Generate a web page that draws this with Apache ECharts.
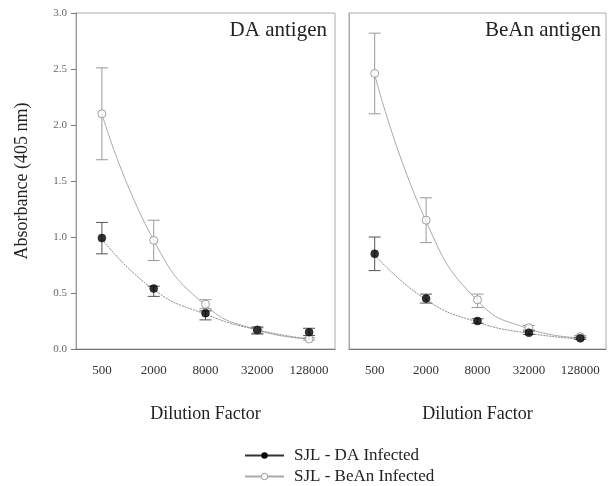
<!DOCTYPE html>
<html>
<head>
<meta charset="utf-8">
<script src="https://cdn.jsdelivr.net/npm/echarts@6/dist/echarts.min.js"></script>
<style>
  html, body { margin: 0; padding: 0; background: #fff; }
  #chart { width: 608px; height: 486px; }
</style>
</head>
<body>
<div id="chart"></div>
<script>
// dilution categories (x axis)
const dilutions = ['500', '2000', '8000', '32000', '128000']

// DA antigen panel
const daAg_daMean = [0.99, 0.54, 0.32, 0.17, 0.15]
const daAg_daLow = [0.85, 0.47, 0.26, 0.14, 0.12]
const daAg_daHigh = [1.13, 0.56, 0.34, 0.19, 0.185]
const daAg_daFit = [0.98, 0.53, 0.31, 0.17, 0.09]
const daAg_beanMean = [2.10, 0.97, 0.40, 0.17, 0.09]
const daAg_beanLow = [1.69, 0.79, 0.36, 0.13, 0.08]
const daAg_beanHigh = [2.51, 1.15, 0.44, 0.20, 0.10]
const daAg_beanFit = [2.10, 0.97, 0.39, 0.17, 0.09]

// BeAn antigen panel
const beanAg_daMean = [0.85, 0.45, 0.25, 0.145, 0.095]
const beanAg_daLow = [0.70, 0.41, 0.23, 0.13, 0.085]
const beanAg_daHigh = [1.00, 0.49, 0.27, 0.16, 0.105]
const beanAg_daFit = [0.84, 0.44, 0.24, 0.14, 0.09]
const beanAg_beanMean = [2.46, 1.15, 0.44, 0.19, 0.11]
const beanAg_beanLow = [2.10, 0.95, 0.37, 0.17, 0.10]
const beanAg_beanHigh = [2.82, 1.35, 0.49, 0.21, 0.12]
const beanAg_beanFit = [2.45, 1.14, 0.43, 0.18, 0.10]

const FONT = '"Liberation Serif", "DejaVu Serif", serif'
const DA_NAME = 'SJL - DA Infected'
const BEAN_NAME = 'SJL - BeAn Infected'

// error bar with caps, drawn through the axis scales
function errorBars(idx, low, high, color) {
  return {
    type: 'custom',
    xAxisIndex: idx,
    yAxisIndex: idx,
    silent: true,
    z: 3,
    data: dilutions.map((d, i) => [i, low[i], high[i]]),
    renderItem: (params, api) => {
      const top = api.coord([api.value(0), api.value(2)])
      const bot = api.coord([api.value(0), api.value(1)])
      const hw = 6
      const style = { stroke: color, lineWidth: 1 }
      return {
        type: 'group',
        children: [
          { type: 'line', shape: { x1: top[0], y1: top[1], x2: bot[0], y2: bot[1] }, style },
          { type: 'line', shape: { x1: top[0] - hw, y1: top[1], x2: top[0] + hw, y2: top[1] }, style },
          { type: 'line', shape: { x1: bot[0] - hw, y1: bot[1], x2: bot[0] + hw, y2: bot[1] }, style }
        ]
      }
    }
  }
}

function fitLine(idx, name, data) {
  const isDA = name === DA_NAME
  return {
    name,
    type: 'line',
    xAxisIndex: idx,
    yAxisIndex: idx,
    smooth: 0.5,
    symbol: 'circle',
    showSymbol: false,
    silent: true,
    z: 2,
    // DA fit is a fine dotted line, BeAn fit a light solid one
    lineStyle: isDA
      ? { color: '#888', width: 1, type: [2, 1] }
      : { color: '#aaa', width: 1 },
    itemStyle: isDA
      ? { color: '#000', borderColor: '#000' }
      : { color: '#fff', borderColor: '#888', borderWidth: 1 },
    data
  }
}

function points(idx, filled, data) {
  return {
    type: 'scatter',
    xAxisIndex: idx,
    yAxisIndex: idx,
    symbol: 'circle',
    symbolSize: 8,
    z: 5,
    itemStyle: filled
      ? { color: '#000', borderColor: '#000', borderWidth: 0.5 }
      : { color: '#fff', borderColor: '#888', borderWidth: 1 },
    data
  }
}

const xAxisBase = (idx) => ({
  type: 'category',
  gridIndex: idx,
  data: dilutions,
  name: 'Dilution Factor',
  nameLocation: 'middle',
  nameGap: 56,
  nameTextStyle: { fontFamily: FONT, fontSize: 18, color: '#222' },
  axisLine: { lineStyle: { color: '#777', width: 1 } },
  axisTick: { alignWithLabel: true, length: 6, lineStyle: { color: '#777' } },
  axisLabel: { fontFamily: FONT, fontSize: 13, color: '#333', margin: 15 },
  splitLine: { show: false }
})

const legendBase = (top, item) => ({
  orient: 'horizontal',
  left: 239,
  top,
  itemWidth: 39,
  itemHeight: 8,
  textStyle: { fontFamily: FONT, fontSize: 17, color: '#222', padding: [0, 0, 0, 5] },
  data: [item]
})

const chart = echarts.init(document.getElementById('chart'))

chart.setOption({
  animation: false,
  backgroundColor: '#fff',
  title: [
    { text: 'DA antigen', right: 276, top: 15, textStyle: { fontFamily: FONT, fontSize: 21, fontWeight: 'normal', color: '#222' } },
    { text: 'BeAn antigen', right: 2, top: 15, textStyle: { fontFamily: FONT, fontSize: 21, fontWeight: 'normal', color: '#222' } }
  ],
  legend: [
    legendBase(442, { name: DA_NAME, lineStyle: { color: '#333', type: 'solid' }, itemStyle: { color: '#000' } }),
    legendBase(463, { name: BEAN_NAME, lineStyle: { color: '#aaa' }, itemStyle: { color: '#fff', borderColor: '#999', borderWidth: 1 } })
  ],
  grid: [
    { left: 76, top: 13, width: 259, height: 336, show: true, borderColor: '#aaa', borderWidth: 1 },
    { left: 349, top: 13, width: 257, height: 336, show: true, borderColor: '#aaa', borderWidth: 1 }
  ],
  xAxis: [xAxisBase(0), xAxisBase(1)],
  yAxis: [
    {
      type: 'value',
      gridIndex: 0,
      min: 0,
      max: 3,
      interval: 0.5,
      name: 'Absorbance (405 nm)',
      nameLocation: 'middle',
      nameGap: 45,
      nameTextStyle: { fontFamily: FONT, fontSize: 18, color: '#222' },
      axisLine: { show: true, lineStyle: { color: '#999' } },
      axisTick: { show: true, length: 5, lineStyle: { color: '#777' } },
      axisLabel: { fontFamily: FONT, fontSize: 11, color: '#666', margin: 9, formatter: v => v.toFixed(1) },
      splitLine: { show: false }
    },
    {
      type: 'value',
      gridIndex: 1,
      min: 0,
      max: 3,
      interval: 0.5,
      axisLine: { show: true, lineStyle: { color: '#aaa' } },
      axisTick: { show: false },
      axisLabel: { show: false },
      splitLine: { show: false }
    }
  ],
  series: [
    // DA antigen panel
    fitLine(0, BEAN_NAME, daAg_beanFit),
    fitLine(0, DA_NAME, daAg_daFit),
    errorBars(0, daAg_beanLow, daAg_beanHigh, '#999'),
    errorBars(0, daAg_daLow, daAg_daHigh, '#555'),
    points(0, false, daAg_beanMean),
    points(0, true, daAg_daMean),
    // BeAn antigen panel
    fitLine(1, BEAN_NAME, beanAg_beanFit),
    fitLine(1, DA_NAME, beanAg_daFit),
    errorBars(1, beanAg_beanLow, beanAg_beanHigh, '#999'),
    errorBars(1, beanAg_daLow, beanAg_daHigh, '#555'),
    points(1, false, beanAg_beanMean),
    points(1, true, beanAg_daMean)
  ]
})
</script>
</body>
</html>
